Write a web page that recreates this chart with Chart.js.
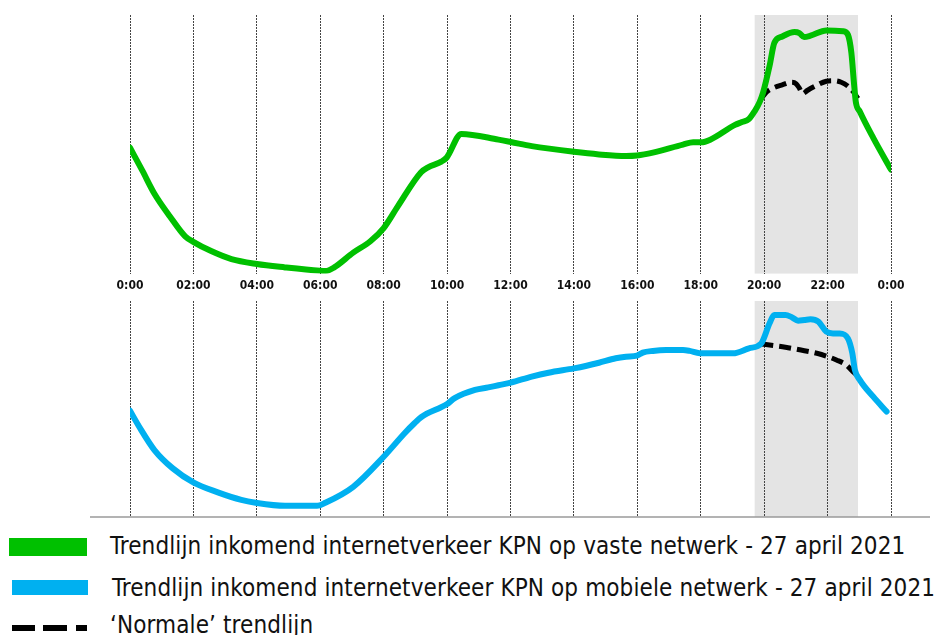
<!DOCTYPE html>
<html>
<head>
<meta charset="utf-8">
<script src="https://cdn.jsdelivr.net/npm/chart.js@4/dist/chart.umd.min.js"></script>
<style>
  body { margin: 0; background: #fff; }
  #wrap { position: relative; width: 936px; height: 635px; overflow: hidden; }
  #topChart { position: absolute; left: 0; top: 0; }
  #bottomChart { position: absolute; left: 0; top: 300px; }
  .key { position: absolute; left: 0; width: 936px; height: 40px; }
  .swatch { position: absolute; }
  .label { position: absolute; left: 110px; white-space: nowrap;
    font-family: 'Liberation Sans Narrow', 'DejaVu Sans Condensed', sans-serif;
    font-size: 24px; line-height: 24px; letter-spacing: 0.11px; color: #111; }
</style>
</head>
<body>
<div id="wrap">
  <canvas id="topChart" width="936" height="298"></canvas>
  <canvas id="bottomChart" width="936" height="220"></canvas>

  <div class="key" style="top:534px">
    <div class="swatch" style="left:9px;top:4px;width:78px;height:18px;background:#00c000"></div>
    <div class="label" style="top:0px">Trendlijn inkomend internetverkeer KPN op vaste netwerk - 27 april 2021</div>
  </div>
  <div class="key" style="top:576px">
    <div class="swatch" style="left:12px;top:4px;width:76px;height:15px;background:#00b0f0"></div>
    <div class="label" style="top:0px;left:112px">Trendlijn inkomend internetverkeer KPN op mobiele netwerk - 27 april 2021</div>
  </div>
  <div class="key" style="top:613px">
    <div class="swatch" style="left:12px;top:12px;width:23px;height:6px;background:#000"></div>
    <div class="swatch" style="left:43px;top:12px;width:24px;height:6px;background:#000"></div>
    <div class="swatch" style="left:76px;top:12px;width:11px;height:6px;background:#000"></div>
    <div class="label" style="top:0px">‘Normale’ trendlijn</div>
  </div>
</div>

<script>
'use strict'

var tickLabels = ['0:00', '02:00', '04:00', '06:00', '08:00', '10:00', '12:00',
  '14:00', '16:00', '18:00', '20:00', '22:00', '0:00'];

// piek-periode (grijs vlak), in uren
var peakStart = 19.7;
var peakEnd = 22.96;

var fixedHours = [0, 0.39, 0.77, 1.26, 1.74, 2.01, 2.56, 3.2, 4.0, 4.89, 5.99, 6.16, 6.44,
  7.04, 7.58, 8.0, 8.44, 9.18, 9.4, 9.82, 9.99, 10.45, 11.62, 12.01, 12.67, 14.0, 14.79,
  15.64, 15.99, 16.49, 17.44, 17.76, 18.01, 18.3, 19.08, 19.3, 19.52, 19.69, 19.86, 19.97,
  20.17, 20.32, 20.57, 20.96, 21.11, 21.26, 21.46, 21.96, 22.49, 22.64, 22.75, 22.83,
  22.89, 23.02, 23.44, 24.0];
var fixedValues = [48.7, 39.8, 30.9, 22.1, 14.4, 12.2, 8.7, 5.6, 3.7, 2.4, 1.1, 1.0, 2.4,
  8.1, 12.5, 17.6, 25.9, 39.2, 41.1, 43.3, 44.9, 54.0, 51.8, 50.9, 49.3, 47.1, 46.1,
  45.5, 45.7, 46.8, 49.9, 50.8, 50.8, 51.8, 57.5, 58.6, 59.8, 62.6, 66.4, 70.2,
  80.3, 89.2, 91.7, 93.4, 93.0, 91.5, 92.0, 94.0, 93.7, 92.4, 85.4, 74.0,
  66.4, 62.6, 52.5, 40.2];

var fixedNormalHours = [19.91, 20.07, 20.27, 20.57, 20.87, 21.01, 21.11, 21.21, 21.36,
  21.61, 21.96, 22.17, 22.43, 22.64, 22.8, 22.96];
var fixedNormalValues = [67.7, 70.2, 71.7, 73.0, 74.0, 73.4, 71.7, 69.6, 70.8,
  72.5, 74.4, 74.6, 74.0, 72.5, 70.5, 67.7];

var mobileHours = [0, 0.29, 0.77, 1.35, 2.01, 2.77, 3.51, 3.96, 4.89, 5.9, 6.16, 7.04,
  8.0, 8.66, 8.97, 9.18, 9.99, 10.24, 10.88, 11.3, 11.62, 12.01, 12.67, 13.2, 14.0, 14.37,
  14.79, 15.32, 15.64, 15.99, 16.17, 16.49, 16.91, 17.44, 17.65, 17.97, 18.52, 19.02,
  19.52, 19.91, 20.17, 20.32, 20.67, 20.87, 21.07, 21.27, 21.46, 21.71, 21.96, 22.17,
  22.38, 22.64, 22.78, 22.86, 23.02, 23.44, 23.86];
var mobileValues = [49.2, 41.8, 31.0, 22.5, 15.9, 11.4, 7.9, 6.6, 5.2, 5.2, 6.6, 14.0,
  27.9, 38.8, 43.4, 46.2, 52.2, 55.0, 58.8, 60.0, 61.0, 62.2, 65.0, 66.8, 68.8, 69.9,
  71.4, 73.5, 74.2, 74.7, 76.1, 76.9, 77.3, 77.3, 76.9, 75.8, 75.8, 75.8,
  78.1, 80.4, 89.7, 93.5, 93.5, 92.5, 90.9, 91.2, 91.5, 90.4, 85.8, 85.0,
  85.0, 82.7, 75.8, 68.1, 63.4, 55.7, 48.8];

var mobileNormalHours = [19.91, 20.17, 20.67, 21.16, 21.66, 21.96, 22.28, 22.59, 22.8, 22.96];
var mobileNormalValues = [80.1, 79.6, 78.6, 77.3, 75.8, 74.5, 72.7, 70.4, 67.3, 65.3];

function toPoints(hours, values) {
  return hours.map(function (h, i) { return { x: h, y: values[i] }; });
}

var peakShade = {
  id: 'peakShade',
  beforeDraw: function (chart) {
    var ctx = chart.ctx;
    var area = chart.chartArea;
    var x = chart.scales.x;
    var x0 = x.getPixelForValue(peakStart);
    var x1 = x.getPixelForValue(peakEnd);
    ctx.save();
    ctx.fillStyle = '#e4e4e4';
    ctx.fillRect(x0, area.top, x1 - x0, area.bottom - area.top);
    ctx.restore();
  }
};

var baseLine = {
  id: 'baseLine',
  afterDraw: function (chart, args, opts) {
    if (!opts.show) return;
    var ctx = chart.ctx;
    var area = chart.chartArea;
    ctx.save();
    ctx.strokeStyle = '#9a9a9a';
    ctx.lineWidth = 1.5;
    ctx.beginPath();
    ctx.moveTo(area.left - 40, area.bottom);
    ctx.lineTo(area.right + 39, area.bottom);
    ctx.stroke();
    ctx.restore();
  }
};

function makeChart(id, hours, values, normHours, normValues, color, showLabels, padding) {
  return new Chart(document.getElementById(id), {
    type: 'line',
    data: {
      datasets: [
        {
          data: toPoints(hours, values),
          borderColor: color,
          borderWidth: 6,
          pointRadius: 0,
          cubicInterpolationMode: 'monotone',
          borderCapStyle: 'round',
          borderJoinStyle: 'round'
        },
        {
          data: toPoints(normHours, normValues),
          borderColor: '#000',
          borderWidth: 5,
          borderDash: [12, 6],
          pointRadius: 0,
          cubicInterpolationMode: 'monotone'
        }
      ]
    },
    options: {
      responsive: false,
      animation: false,
      layout: { padding: padding },
      plugins: {
        legend: { display: false },
        tooltip: { enabled: false },
        baseLine: { show: !showLabels }
      },
      scales: {
        x: {
          type: 'linear',
          min: 0,
          max: 24,
          grid: { color: '#444', lineWidth: 1, drawTicks: false },
          border: { display: false, dash: [2, 1] },
          ticks: {
            display: showLabels,
            stepSize: 2,
            padding: 5,
            color: '#111',
            font: { family: "'Liberation Sans Narrow', 'DejaVu Sans Condensed', sans-serif", size: 12, weight: 'bold' },
            callback: function (value) { return tickLabels[Math.round(value / 2)]; }
          }
        },
        y: {
          display: false,
          min: 0,
          max: 100
        }
      }
    },
    plugins: [peakShade, baseLine]
  });
}

makeChart('topChart', fixedHours, fixedValues, fixedNormalHours, fixedNormalValues,
  '#00c000', true, { left: 130, right: 45, top: 15, bottom: 0 });
makeChart('bottomChart', mobileHours, mobileValues, mobileNormalHours, mobileNormalValues,
  '#00b0f0', false, { left: 130, right: 45, top: 1, bottom: 3 });
</script>
</body>
</html>
